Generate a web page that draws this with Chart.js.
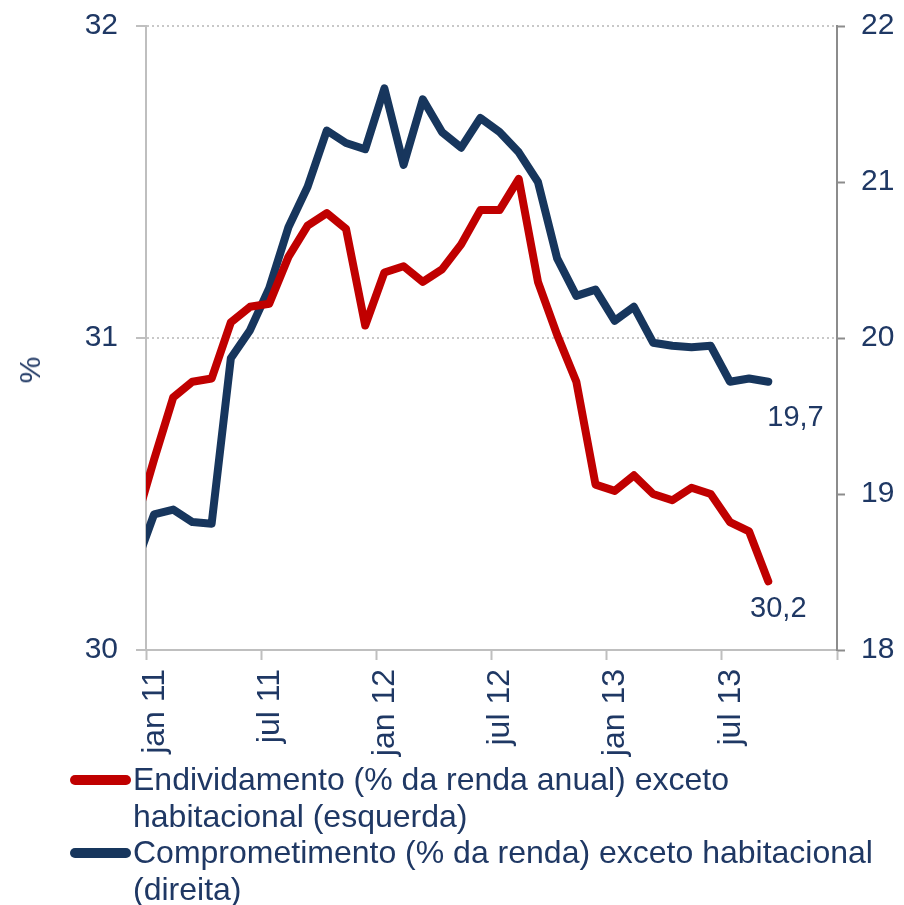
<!DOCTYPE html>
<html>
<head>
<meta charset="utf-8">
<script src="https://cdn.jsdelivr.net/npm/chart.js@4"></script>
<style>
html,body{margin:0;padding:0;background:#fff;}
#wrap{position:relative;width:904px;height:905px;overflow:hidden;font-family:"Liberation Sans",Arial,sans-serif;color:#1F3864;}
#c{position:absolute;left:0;top:-10px;}
#ylab{position:absolute;left:30px;top:370px;transform:translate(-50%,-50%) rotate(-90deg);font-size:30px;line-height:1;}
.leg{position:absolute;left:133px;font-size:32px;line-height:36.5px;white-space:nowrap;}
.sw{position:absolute;left:70px;width:61px;height:10px;border-radius:5px;}
</style>
</head>
<body>
<div id="wrap">
<canvas id="c" width="904" height="915"></canvas>
<div id="ylab">%</div>
<div class="sw" style="top:775px;background:#C00000"></div>
<div class="sw" style="top:848px;background:#17365D"></div>
<div class="leg" id="leg" style="top:761px"></div>
</div>
<script>
// ---- data ----
const months = ['dez 10',
  'jan 11','fev 11','mar 11','abr 11','mai 11','jun 11','jul 11','ago 11','set 11','out 11','nov 11','dez 11',
  'jan 12','fev 12','mar 12','abr 12','mai 12','jun 12','jul 12','ago 12','set 12','out 12','nov 12','dez 12',
  'jan 13','fev 13','mar 13','abr 13','mai 13','jun 13','jul 13','ago 13','set 13'];
const endividamento = [30.40, 30.61, 30.81, 30.86, 30.87, 31.05, 31.10, 31.11, 31.26, 31.36, 31.40, 31.35, 31.04,
  31.21, 31.23, 31.18, 31.22, 31.30, 31.41, 31.41, 31.51, 31.18, 31.01, 30.86, 30.53,
  30.51, 30.56, 30.50, 30.48, 30.52, 30.50, 30.41, 30.38, 30.22];
const comprometimento = [18.53, 18.87, 18.90, 18.82, 18.81, 19.87, 20.05, 20.32, 20.71, 20.97, 21.33, 21.25, 21.21,
  21.60, 21.11, 21.53, 21.32, 21.22, 21.41, 21.32, 21.19, 21.00, 20.51, 20.27, 20.31,
  20.11, 20.20, 19.97, 19.95, 19.94, 19.95, 19.72, 19.74, 19.72];
const xTickLabels = ['jan 11','jul 11','jan 12','jul 12','jan 13','jul 13'];
const leftTicks = [30, 31, 32];
const rightTicks = [18, 19, 20, 21, 22];
const seriesNames = ['Endividamento (% da renda anual) exceto\nhabitacional (esquerda)',
                     'Comprometimento (% da renda) exceto habitacional\n(direita)'];

// ---- legend (HTML text) ----
document.getElementById('leg').innerHTML = seriesNames.map(s => s.split('\n').join('<br>')).join('<br>');

const FONT = '"Liberation Sans", Arial, sans-serif';
const TXT = '#1F3864';
const RED = '#C00000', BLUE = '#17365D';
// month index -> position on the axis (jan 11 tick at 0, monthly points drawn slightly right of tick)
const monthPos = i => i - 1 + 0.42;

const endLabels = {
  id: 'endLabels',
  afterDatasetsDraw(chart, args, opts) {
    const ctx = chart.ctx;
    ctx.save();
    ctx.font = '29px ' + FONT;
    ctx.fillStyle = TXT;
    ctx.textBaseline = 'middle';
    chart.data.datasets.forEach((ds, i) => {
      const meta = chart.getDatasetMeta(i);
      const pt = meta.data[meta.data.length - 1];
      const v = ds.data[ds.data.length - 1].y;
      const txt = v.toFixed(1).replace('.', ',');
      const o = opts.offsets[i];
      ctx.textAlign = o.align;
      ctx.fillText(txt, pt.x + o.dx, pt.y + o.dy);
    });
    ctx.restore();
  }
};

new Chart(document.getElementById('c'), {
  type: 'line',
  data: {
    datasets: [
      { label: seriesNames[0], data: endividamento.map((v, i) => ({x: monthPos(i), y: v})),
        yAxisID: 'yL', borderColor: RED, borderWidth: 8, pointRadius: 0, tension: 0, clip: 0,
        borderJoinStyle: 'round', borderCapStyle: 'round' },
      { label: seriesNames[1], data: comprometimento.map((v, i) => ({x: monthPos(i), y: v})),
        yAxisID: 'yR', borderColor: BLUE, borderWidth: 8, pointRadius: 0, tension: 0, clip: 0,
        borderJoinStyle: 'round', borderCapStyle: 'round' }
    ]
  },
  options: {
    responsive: false,
    animation: false,
    layout: { padding: { top: 16, left: 0, right: 0, bottom: 0 } },
    plugins: {
      legend: { display: false },
      tooltip: { enabled: false },
      endLabels: { offsets: [ {dx: 10, dy: 28, align: 'center'}, {dx: -1, dy: 36, align: 'left'} ] }
    },
    scales: {
      x: {
        type: 'linear', min: 0, max: 36,
        afterBuildTicks: s => { s.ticks = [0, 6, 12, 18, 24, 30, 36].map(v => ({value: v})); },
        afterFit: s => { s.height = 915 - 660; },
        ticks: { autoSkip: false, minRotation: 90, maxRotation: 90, labelOffset: 9, padding: 9,
                 font: { size: 32, family: FONT }, color: TXT,
                 callback: v => xTickLabels[v / 6] !== undefined ? xTickLabels[v / 6] : '' },
        grid: { drawOnChartArea: false, tickLength: 10, tickColor: '#BFBFBF', tickWidth: 2, color: '#BFBFBF' },
        border: { color: '#BFBFBF', width: 2 }
      },
      yL: {
        position: 'left', min: 30, max: 32,
        afterBuildTicks: s => { s.ticks = leftTicks.map(v => ({value: v})); },
        afterFit: s => { s.width = 146; },
        ticks: { padding: 18, font: { size: 30, family: FONT }, color: TXT },
        grid: { color: c => (c.tick && c.tick.value === 30) ? 'rgba(0,0,0,0)' : '#C8C8C8', lineWidth: 2,
                tickLength: 10, tickColor: '#BFBFBF', tickWidth: 2 },
        border: { color: '#BFBFBF', width: 2, dash: [2, 3] }
      },
      yR: {
        position: 'right', min: 18, max: 22,
        afterBuildTicks: s => { s.ticks = rightTicks.map(v => ({value: v})); },
        afterFit: s => { s.width = 904 - 837; },
        ticks: { padding: 16, font: { size: 30, family: FONT }, color: TXT },
        grid: { drawOnChartArea: false, tickLength: 8, tickColor: '#8C8C8C', tickWidth: 2 },
        border: { color: '#8C8C8C', width: 2 }
      }
    }
  },
  plugins: [endLabels]
});
</script>
</body>
</html>
